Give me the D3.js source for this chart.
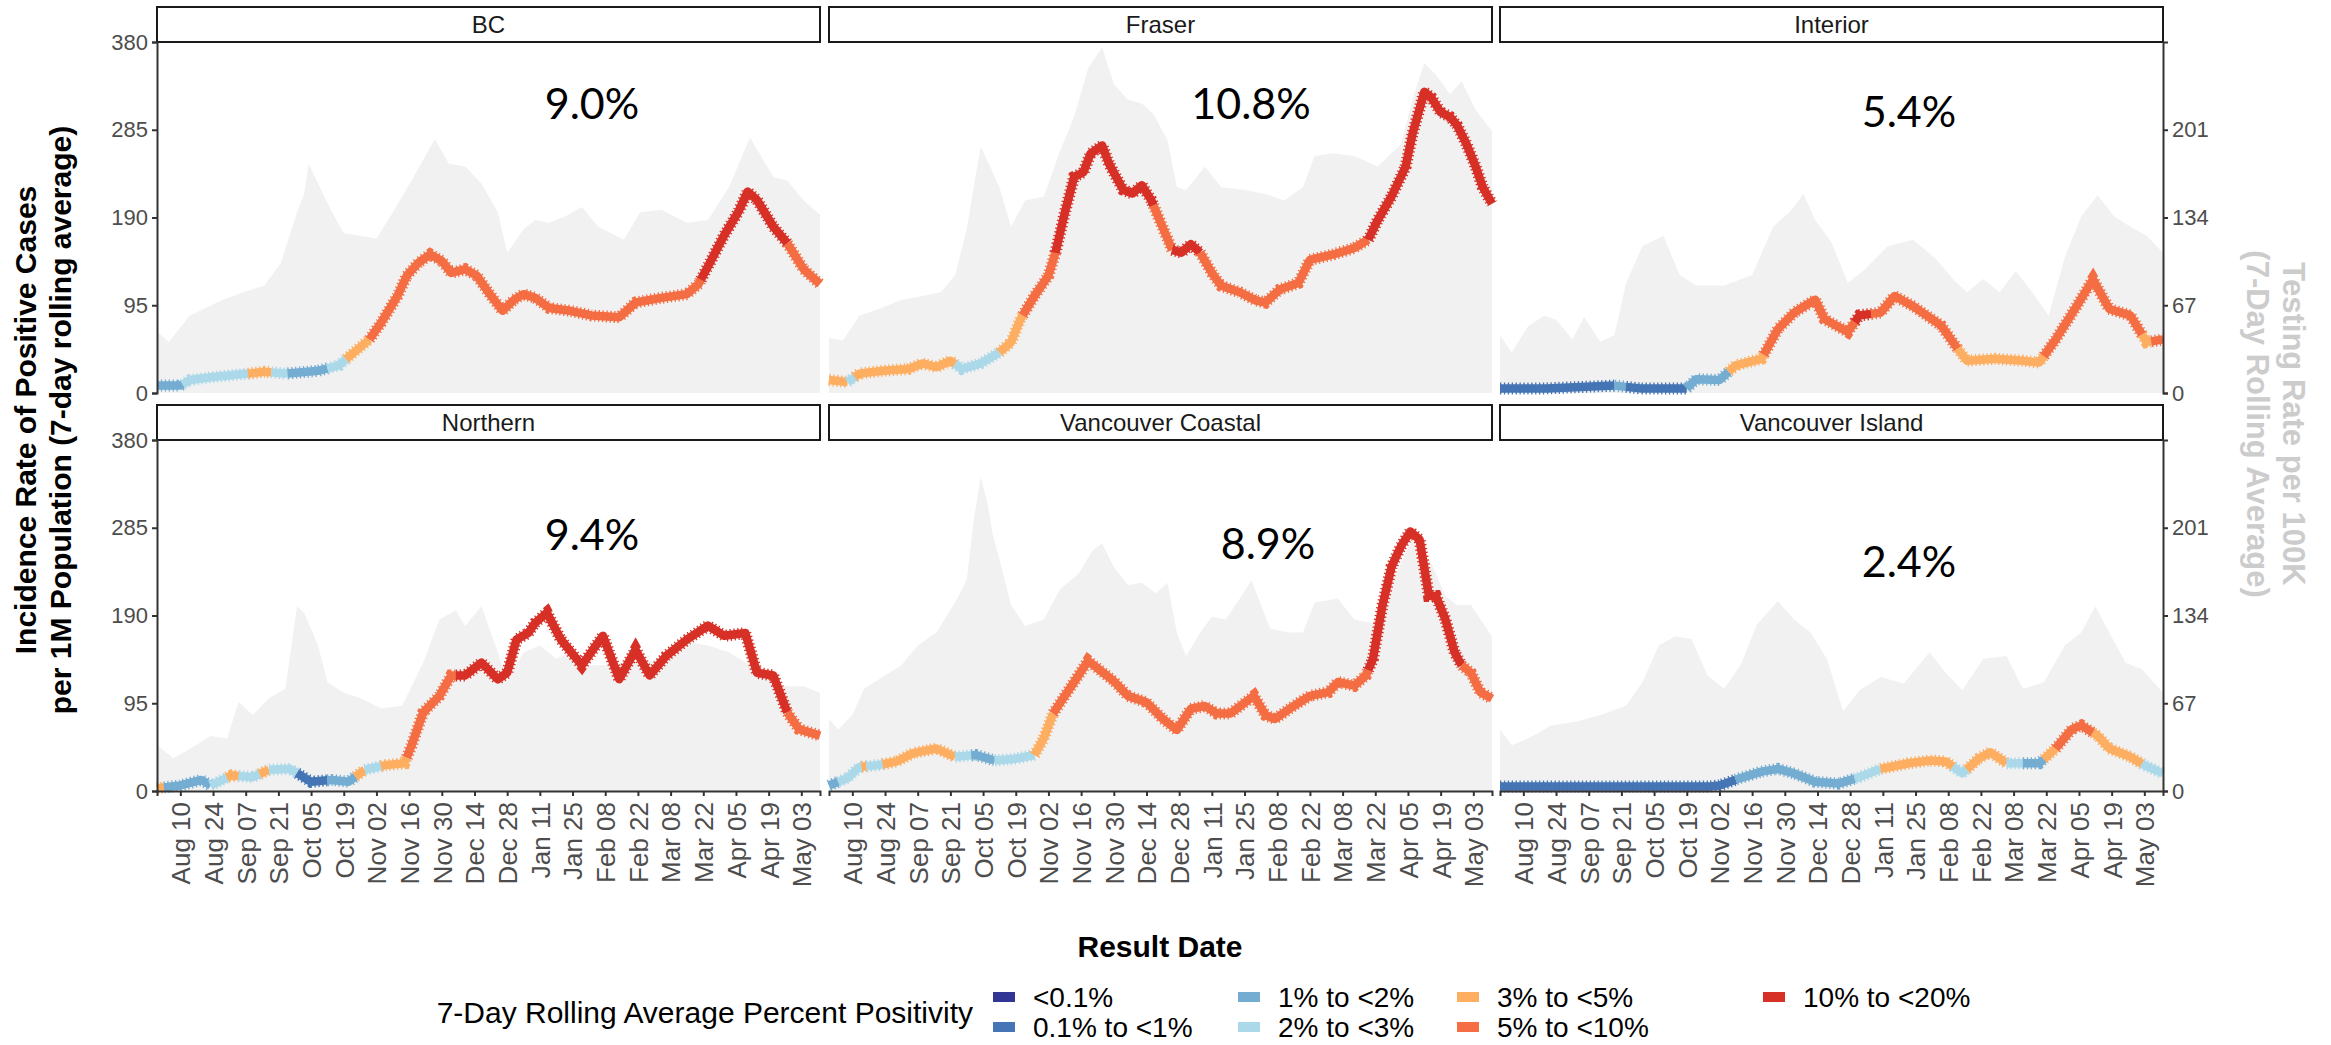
<!DOCTYPE html>
<html><head><meta charset="utf-8">
<script src="https://cdn.jsdelivr.net/npm/d3@7"></script>
<style>body{margin:0;background:#fff;} svg{display:block;font-family:"Liberation Sans",Arial,sans-serif;}</style>
</head><body><svg id="c" width="2331" height="1045"></svg>
<script>
// ---------------- DATA ----------------
const START = "2020-07-31", END = "2021-05-11";   // day offsets below are counted from START
const regions = ["BC", "Fraser", "Interior", "Northern", "Vancouver Coastal", "Vancouver Island"];
const overallPositivity = ["9.0%", "10.8%", "5.4%", "9.4%", "8.9%", "2.4%"];
const categories = ["<0.1%", "0.1% to <1%", "1% to <2%", "2% to <3%", "3% to <5%", "5% to <10%", "10% to <20%"];
const categoryColors = ["#313695", "#4575b4", "#74add1", "#abd9e9", "#fdae61", "#f46d43", "#d73027"];
const incidenceTicks = [0, 95, 190, 285, 380];
const testingTicks = [0, 67, 134, 201];
const dateTicks = ["2020-08-10","2020-08-24","2020-09-07","2020-09-21","2020-10-05","2020-10-19","2020-11-02","2020-11-16","2020-11-30","2020-12-14","2020-12-28","2021-01-11","2021-01-25","2021-02-08","2021-02-22","2021-03-08","2021-03-22","2021-04-05","2021-04-19","2021-05-03"];

// incidence per 1M: [day, value]
const bcIncidence = [[0,8],[10,8],[14,14],[23,17],[39,21],[46,23],[55,21],[69,24],[78,30],[82,39],[91,58],[96,76],[103,105],[107,127],[112,141],[117,150],[122,143],[126,130],[132,134],[137,127],[142,109],[148,89],[153,101],[157,107],[162,103],[168,92],[177,89],[186,84],[198,82],[205,98],[216,103],[227,107],[232,118],[236,137],[243,171],[249,196],[253,218],[257,209],[264,180],[270,162],[277,134],[284,118]];
const fraserIncidence = [[0,14],[8,12],[13,21],[23,24],[34,26],[40,32],[46,28],[52,35],[57,26],[65,32],[73,44],[78,55],[82,80],[88,105],[94,127],[97,152],[101,195],[105,234],[109,239],[112,259],[117,268],[120,248],[126,220],[130,216],[134,225],[138,209],[141,191],[147,155],[151,152],[155,161],[159,152],[164,130],[168,116],[176,109],[183,100],[187,98],[193,112],[201,119],[206,144],[216,150],[225,157],[231,166],[235,187],[241,213],[247,245],[250,281],[255,326],[258,320],[262,304],[266,299],[269,290],[273,270],[277,245],[280,223],[284,205]];
const interiorIncidence = [[0,5],[20,5],[49,8],[60,5],[80,5],[84,15],[94,14],[101,30],[112,37],[119,69],[126,87],[135,101],[139,80],[149,66],[154,84],[163,87],[169,105],[177,94],[189,73],[196,48],[200,35],[212,37],[224,35],[231,33],[238,58],[247,94],[254,123],[261,91],[270,84],[277,55],[284,58]];
const northernIncidence = [[0,3],[10,6],[19,12],[23,6],[32,17],[41,15],[48,23],[57,24],[66,10],[75,12],[82,10],[89,23],[98,28],[106,30],[109,49],[114,85],[121,103],[126,125],[132,125],[139,139],[146,121],[150,128],[154,164],[159,171],[162,182],[167,193],[173,164],[182,136],[191,168],[198,121],[205,153],[211,125],[218,146],[227,164],[236,179],[243,168],[252,171],[257,128],[264,125],[270,85],[275,67],[284,60]];
const coastalIncidence = [[0,6],[8,14],[13,26],[21,28],[29,32],[36,41],[46,46],[54,37],[63,39],[71,33],[80,35],[88,39],[92,57],[96,84],[101,103],[105,118],[111,141],[117,129],[122,119],[128,103],[136,96],[143,78],[149,66],[155,89],[161,92],[166,84],[172,84],[182,103],[187,82],[191,78],[199,92],[206,103],[214,107],[218,118],[225,114],[230,125],[233,143],[237,200],[241,243],[245,265],[249,281],[253,272],[257,211],[260,211],[264,186],[268,150],[271,136],[275,128],[279,107],[284,100]];
const islandIncidence = [[0,5],[30,5],[60,5],[90,5],[94,6],[103,14],[112,21],[119,24],[126,19],[135,10],[145,8],[154,15],[163,24],[175,30],[184,33],[191,32],[198,19],[205,35],[210,42],[217,30],[224,30],[231,30],[238,46],[245,67],[249,71],[256,60],[261,46],[270,37],[276,28],[284,19]];

// testing rate per 100K: [day, value]
const bcTesting = [[0,47],[5,39],[14,59],[21,65],[28,71],[37,77],[46,82],[53,99],[60,138],[63,152],[65,175],[69,160],[75,138],[80,122],[87,120],[94,118],[100,135],[109,162],[119,194],[125,175],[132,173],[139,160],[146,138],[150,107],[157,125],[162,132],[168,130],[175,135],[182,142],[189,127],[200,117],[207,138],[216,140],[227,130],[236,132],[245,157],[254,195],[264,165],[270,162],[277,147],[284,136]];
const fraserTesting = [[0,42],[6,40],[13,59],[21,64],[31,71],[40,74],[48,77],[54,90],[59,125],[63,168],[65,188],[69,173],[73,157],[78,127],[84,147],[92,150],[99,185],[105,211],[111,248],[117,264],[122,236],[128,224],[134,221],[139,213],[145,193],[149,157],[153,155],[161,173],[168,157],[178,155],[187,152],[195,147],[203,157],[208,181],[216,183],[225,181],[235,173],[245,190],[250,224],[255,252],[260,243],[266,228],[271,238],[277,216],[284,200]];
const interiorTesting = [[0,44],[5,31],[12,51],[19,59],[24,56],[31,41],[36,58],[43,39],[49,44],[54,84],[61,112],[70,120],[77,90],[84,82],[96,82],[108,90],[117,127],[124,138],[130,152],[135,132],[142,115],[149,84],[156,94],[166,112],[177,117],[187,102],[194,87],[200,77],[207,87],[214,77],[221,93],[228,77],[235,59],[242,104],[249,135],[256,151],[263,135],[270,127],[277,120],[284,107]];
const northernTesting = [[0,35],[7,25],[14,32],[23,42],[30,40],[35,68],[41,58],[48,71],[55,78],[60,141],[63,136],[69,111],[73,83],[80,75],[87,71],[96,63],[105,65],[114,98],[121,131],[128,138],[132,126],[139,141],[146,106],[150,83],[157,106],[164,111],[171,101],[177,106],[184,96],[191,96],[200,98],[209,98],[218,103],[227,114],[236,111],[245,106],[254,96],[261,85],[270,80],[277,80],[284,75]];
const coastalTesting = [[0,55],[4,47],[10,58],[15,78],[23,87],[31,96],[38,111],[46,121],[54,144],[59,161],[62,207],[65,240],[68,219],[70,197],[73,177],[78,142],[84,126],[92,131],[99,154],[107,166],[113,184],[117,189],[122,171],[128,157],[134,159],[140,151],[145,159],[149,121],[153,103],[159,121],[164,133],[170,131],[176,147],[181,161],[185,142],[189,124],[197,121],[203,121],[208,144],[218,147],[225,131],[233,128],[241,157],[247,182],[250,192],[258,174],[264,149],[269,142],[275,142],[284,118]];
const islandTesting = [[0,47],[5,35],[12,40],[22,50],[33,53],[43,58],[54,65],[61,83],[68,111],[75,118],[82,116],[89,88],[96,78],[103,96],[110,127],[119,145],[126,131],[133,121],[140,101],[147,61],[154,77],[163,87],[173,82],[184,106],[191,90],[198,77],[207,101],[217,103],[224,78],[233,83],[242,111],[249,121],[255,141],[261,121],[268,98],[275,93],[284,75]];

// 7-day positivity category (index into categories), as [first day, category]
const bcPositivity = [[0,2],[11,3],[39,4],[49,3],[56,2],[73,3],[81,4],[91,5],[233,6],[270,5]];
const fraserPositivity = [[0,4],[8,3],[11,4],[54,3],[73,4],[83,5],[97,6],[139,5],[147,6],[159,5],[231,6]];
const interiorPositivity = [[0,1],[49,2],[54,1],[80,2],[98,4],[113,5],[152,6],[159,5],[196,4],[233,5],[275,4],[279,5]];
const northernPositivity = [[0,4],[3,2],[23,3],[30,4],[35,3],[44,4],[48,3],[60,1],[73,2],[85,4],[89,3],[96,4],[107,5],[128,6],[270,5]];
const coastalPositivity = [[0,2],[4,3],[14,4],[16,3],[23,4],[54,3],[61,2],[71,3],[88,4],[96,5],[231,6],[271,5]];
const islandPositivity = [[0,1],[101,2],[152,3],[163,4],[194,3],[200,4],[217,3],[224,2],[233,4],[238,5],[254,4],[275,3]];

const incidenceSeries = [bcIncidence, fraserIncidence, interiorIncidence, northernIncidence, coastalIncidence, islandIncidence];
const testingSeries = [bcTesting, fraserTesting, interiorTesting, northernTesting, coastalTesting, islandTesting];
const positivitySeries = [bcPositivity, fraserPositivity, interiorPositivity, northernPositivity, coastalPositivity, islandPositivity];

// ---------------- LAYOUT ----------------
const W = 663, H = 351, STRIP = 35;
const colX = [157, 829, 1500], rowY = [42, 440];
const labelPos = [[435, 60], [422, 60], [409, 68], [435, 93], [439, 102], [409, 120]]; // offsets inside panel
const legendKeyX = [993, 1238, 1457, 1763];
const gray30 = "#4d4d4d";

const svg = d3.select("#c");
svg.append("rect").attr("width", 2331).attr("height", 1045).attr("fill", "#fff");

const parse = d3.utcParse("%Y-%m-%d");
const t0 = parse(START), t1 = parse(END);
const toDate = d => new Date(t0.getTime() + d * 864e5);
const x = d3.scaleUtc().domain([t0, t1]).range([0, W]);
const y = d3.scaleLinear().domain([0, 380]).range([H, 0]);
const yR = d3.scaleLinear().domain([0, 380 / 1.418]).range([H, 0]);

function valueAt(series, d) {
  for (let i = 0; i < series.length - 1; i++) {
    const a = series[i], b = series[i + 1];
    if (d >= a[0] && d <= b[0]) return a[1] + (b[1] - a[1]) * (d - a[0]) / (b[0] - a[0]);
  }
  return series[series.length - 1][1];
}

const line = d3.line().x(d => x(toDate(d[0]))).y(d => y(d[1])).curve(d3.curveLinear);
const area = d3.area().x(d => x(toDate(d[0]))).y0(H).y1(d => yR(d[1]));

regions.forEach((name, i) => {
  const col = i % 3, row = Math.floor(i / 3);
  const g = svg.append("g").attr("transform", `translate(${colX[col]},${rowY[row]})`);
  // strip
  g.append("rect").attr("x", 0).attr("y", -STRIP).attr("width", W).attr("height", STRIP)
    .attr("fill", "#fff").attr("stroke", "#1a1a1a").attr("stroke-width", 2);
  g.append("text").attr("x", W / 2).attr("y", -STRIP / 2).attr("text-anchor", "middle")
    .attr("dominant-baseline", "central").attr("fill", "#1a1a1a").style("font-size", "24px").text(name);
  // testing background
  g.append("path").datum(testingSeries[i]).attr("d", area).attr("fill", "#f1f1f1");
  // incidence line, coloured by positivity
  const inc = incidenceSeries[i], runs = positivitySeries[i];
  const lastDay = inc[inc.length - 1][0];
  runs.forEach((r, k) => {
    const d0 = r[0], d1 = k < runs.length - 1 ? runs[k + 1][0] : lastDay;
    const pts = [[d0, valueAt(inc, d0)]];
    inc.forEach(p => { if (p[0] > d0 && p[0] < d1) pts.push(p); });
    pts.push([d1, valueAt(inc, d1)]);
    const col_ = categoryColors[r[1]];
    g.append("path").datum(pts).attr("d", line).attr("fill", "none").attr("stroke", col_)
      .attr("stroke-width", 8.5).attr("stroke-linejoin", "round");
    g.append("path").datum(pts).attr("d", line).attr("fill", "none").attr("stroke", col_)
      .attr("stroke-width", 12).attr("stroke-dasharray", "1.3 2.6");
  });
  // axes
  if (col === 0) {
    const ax = g.append("g").call(d3.axisLeft(y).tickValues(incidenceTicks).tickSize(5).tickPadding(4));
    styleAxis(ax, 22);
  }
  if (col === 2) {
    const ax = g.append("g").attr("transform", `translate(${W},0)`)
      .call(d3.axisRight(yR).tickValues(testingTicks).tickSize(5).tickPadding(4));
    styleAxis(ax, 22);
  }
  if (row === 1) {
    const ax = g.append("g").attr("transform", `translate(0,${H})`)
      .call(d3.axisBottom(x).tickValues(dateTicks.map(parse)).tickFormat(d3.utcFormat("%b %d")).tickSize(5));
    styleAxis(ax, 26);
    ax.selectAll(".tick text").attr("transform", "rotate(-90)").attr("text-anchor", "end")
      .attr("x", -11).attr("y", 0).attr("dy", "0.36em");
  }
  // overall positivity label
  g.append("text").attr("x", labelPos[i][0]).attr("y", labelPos[i][1]).attr("text-anchor", "middle")
    .attr("dominant-baseline", "central").style("font-family", "Lato, 'Open Sans', sans-serif")
    .style("font-size", "43px").attr("fill", "#000").text(overallPositivity[i]);
});

function styleAxis(ax, fs) {
  ax.select(".domain").attr("stroke", "#333").attr("stroke-width", 2);
  ax.selectAll(".tick line").attr("stroke", "#333").attr("stroke-width", 2);
  ax.selectAll(".tick text").attr("fill", gray30).style("font-size", fs + "px")
    .style("font-family", "'Liberation Sans', Arial, sans-serif");
}

// axis titles
const lt = svg.append("text").attr("transform", "translate(0,420) rotate(-90)").attr("text-anchor", "middle")
  .style("font-weight", "bold").style("font-size", "30px").attr("fill", "#000");
lt.append("tspan").attr("x", 0).attr("y", 36).text("Incidence Rate of Positive Cases");
lt.append("tspan").attr("x", 0).attr("y", 71).text("per 1M Population (7-day rolling average)");

const rt = svg.append("text").attr("transform", "translate(2331,424) rotate(90)").attr("text-anchor", "middle")
  .style("font-weight", "bold").style("font-size", "31px").attr("fill", "#cccccc");
rt.append("tspan").attr("x", 0).attr("y", 48).text("Testing Rate per 100K");
rt.append("tspan").attr("x", 0).attr("y", 84).text("(7-Day Rolling Average)");

svg.append("text").attr("x", 1160).attr("y", 957).attr("text-anchor", "middle")
  .style("font-weight", "bold").style("font-size", "30px").attr("fill", "#000").text("Result Date");

// legend
svg.append("text").attr("x", 973).attr("y", 1012).attr("text-anchor", "end").attr("dominant-baseline", "central")
  .style("font-size", "30px").attr("fill", "#000").text("7-Day Rolling Average Percent Positivity");
const rowsY = [997, 1027];
categories.forEach((c, k) => {
  const colI = Math.floor(k / 2), rowI = k % 2;
  const kx = legendKeyX[colI], ky = rowsY[rowI];
  svg.append("rect").attr("x", kx).attr("y", ky - 5).attr("width", 22).attr("height", 10).attr("fill", categoryColors[k]);
  svg.append("text").attr("x", kx + 40).attr("y", ky).attr("dominant-baseline", "central")
    .style("font-size", "28px").attr("fill", "#000").text(c);
});
</script></body></html>
